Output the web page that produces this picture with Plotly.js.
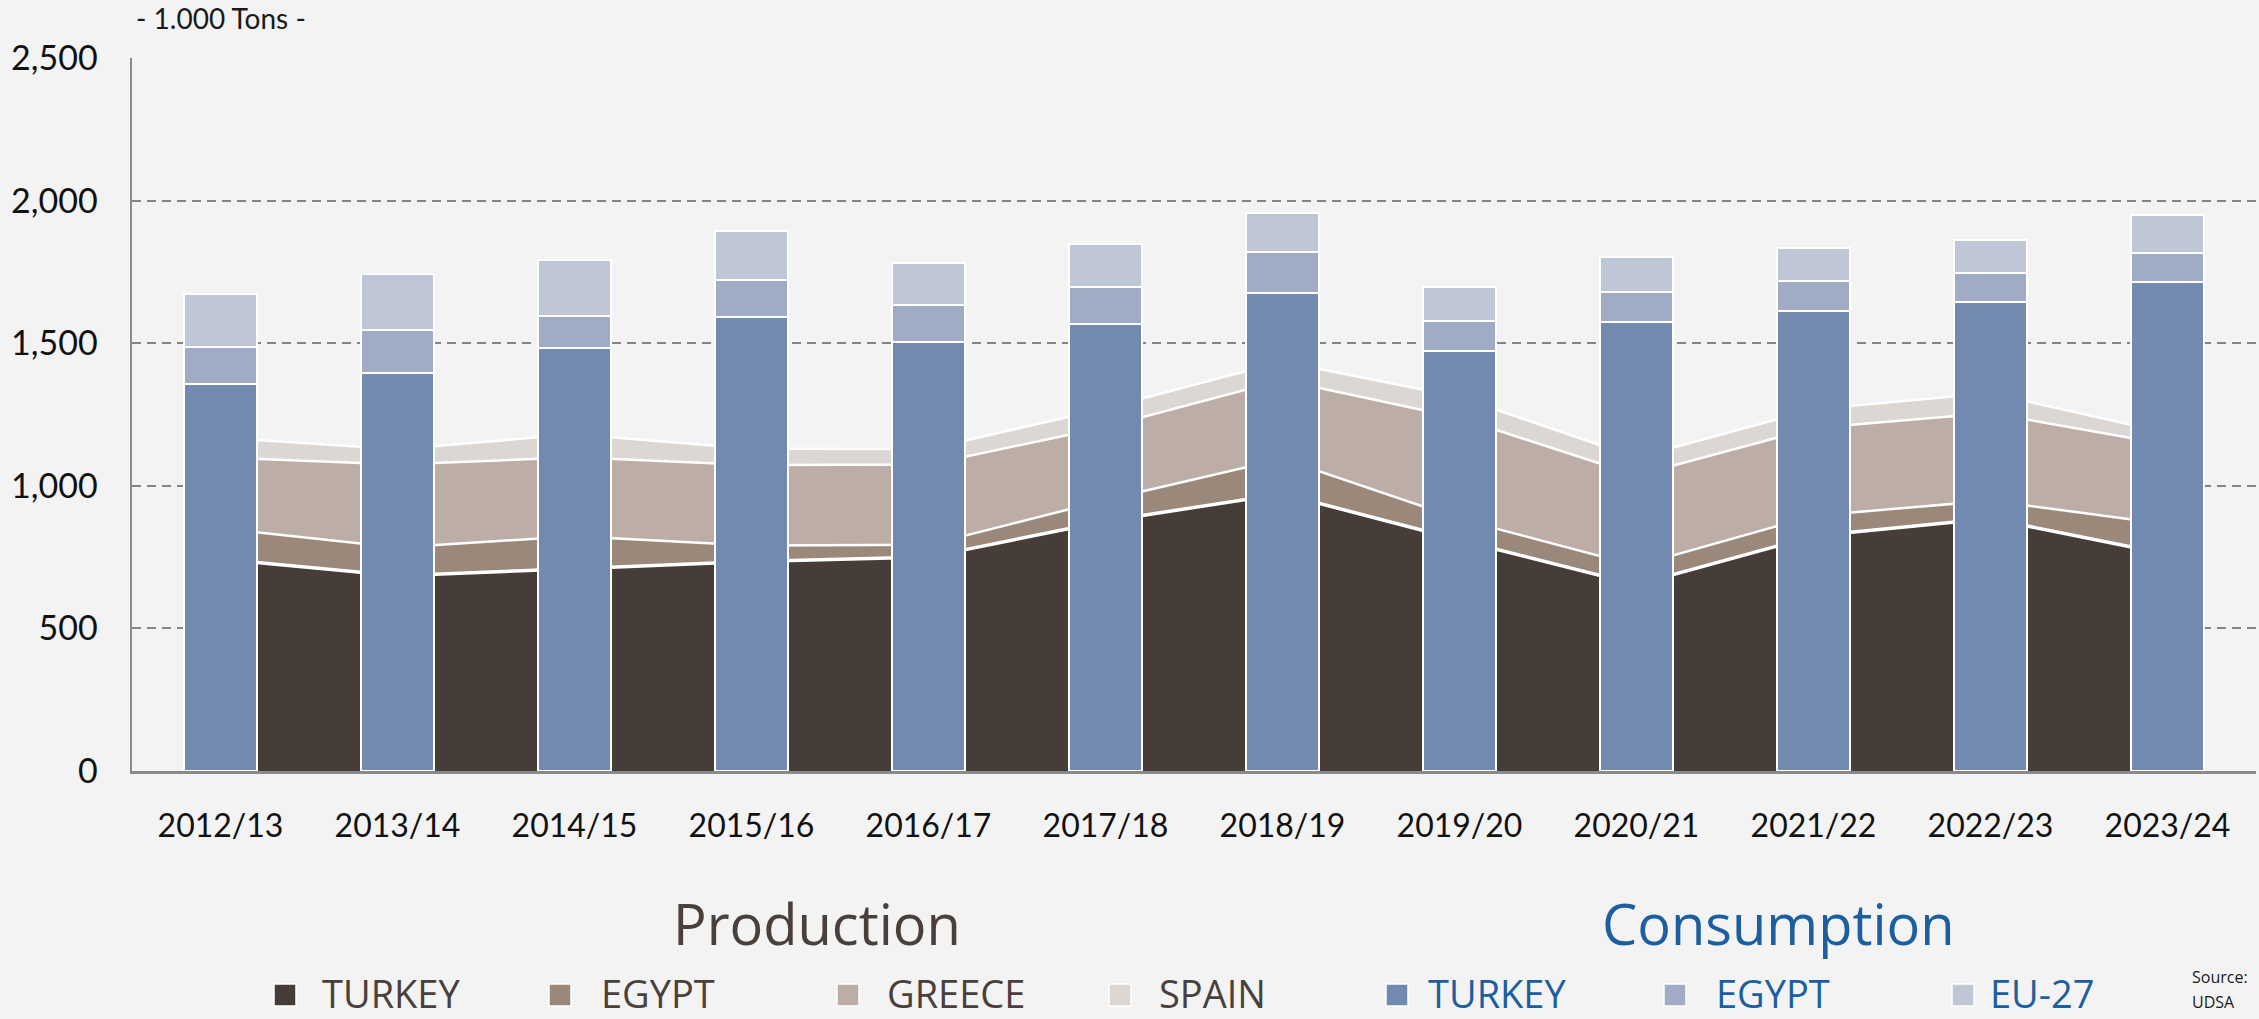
<!DOCTYPE html>
<html>
<head>
<meta charset="utf-8">
<script src="https://cdn.plot.ly/plotly-3.0.1.min.js"></script>
<style>
  html, body { margin: 0; padding: 0; background: #f3f3f3; }
  #chart { width: 2259px; height: 1019px; }
</style>
</head>
<body>
<div id="chart"></div>
<script>
// ---- data (1.000 tons) ----
const seasons = ["2012/13","2013/14","2014/15","2015/16","2016/17","2017/18","2018/19","2019/20","2020/21","2021/22","2022/23","2023/24"];

const prodTurkey = [743, 685, 709, 735, 750, 876, 972, 810, 653, 824, 885, 760];
const prodEgypt  = [108,  99, 114,  56,  43,  74, 123,  74,  67,  71,  63, 105];
const prodGreece = [248, 291, 277, 282, 282, 256, 276, 354, 316, 308, 307, 280];
const prodSpain  = [ 70,  53,  81,  57,  54,  66,  65,  73,  63,  65,  70,  40];

const consTurkey = [1357, 1397, 1483, 1593, 1505, 1566, 1675, 1472, 1575, 1614, 1644, 1716];
const consEgypt  = [ 130,  148,  113,  130,  128,  130,  145,  106,  104,  104,  101,   99];
const consEU     = [ 185,  198,  194,  170,  148,  153,  138,  119,  122,  117,  118,  134];

const yTicks = [0, 500, 1000, 1500, 2000, 2500];

const prodNames = ["TURKEY", "EGYPT", "GREECE", "SPAIN"];
const consNames = ["TURKEY", "EGYPT", "EU-27"];

// ---- styles ----
const prodColors = ["#463c38", "#9a887b", "#bcaea6", "#ddd7d3"];
const consColors = ["#728aaf", "#a0acc5", "#bfc6d6"];
const brownText = "#4a403b";
const blueText = "#1d5f9e";

// plot area in pixels
const L = 132, R = 2256, T = 58, B = 771, W = 2259, H = 1019;
const px = x => (x - L) / (R - L);
const py = y => (B - y) / (B - T);

const prodSeries = [prodTurkey, prodEgypt, prodGreece, prodSpain];
const consSeries = [consTurkey, consEgypt, consEU];

const traces = [];
prodSeries.forEach((vals, i) => {
  traces.push({
    type: "scatter", mode: "lines", name: prodNames[i],
    x: seasons, y: vals, stackgroup: "prod",
    fillcolor: prodColors[i],
    line: { color: "#ffffff", width: i === 0 ? 3.5 : 2.5, shape: "linear" },
    xaxis: "x", yaxis: "y", showlegend: false
  });
});
consSeries.forEach((vals, i) => {
  traces.push({
    type: "bar", name: consNames[i],
    x: seasons, y: vals, width: 0.41,
    marker: { color: consColors[i], line: { color: "#ffffff", width: 2 } },
    xaxis: "x2", yaxis: "y2", showlegend: false
  });
});

// legend built from names and colours
const annotations = [
  { text: "- 1.000 Tons -", x: px(134), y: py(18), xref: "paper", yref: "paper",
    xanchor: "left", yanchor: "middle", showarrow: false,
    font: { family: "Lato, Open Sans, sans-serif", size: 28, color: "#1a1a1a" } },
  { text: "Production", x: px(817), y: py(923), xref: "paper", yref: "paper",
    xanchor: "center", yanchor: "middle", showarrow: false,
    font: { family: "Open Sans, sans-serif", size: 56, color: brownText } },
  { text: "Consumption", x: px(1778), y: py(923), xref: "paper", yref: "paper",
    xanchor: "center", yanchor: "middle", showarrow: false,
    font: { family: "Open Sans, sans-serif", size: 56, color: blueText } },
  { text: "Source:", x: px(2190), y: py(977), xref: "paper", yref: "paper",
    xanchor: "left", yanchor: "middle", showarrow: false,
    font: { family: "Open Sans, sans-serif", size: 16, color: "#1a1a1a" } },
  { text: "UDSA", x: px(2190), y: py(1002), xref: "paper", yref: "paper",
    xanchor: "left", yanchor: "middle", showarrow: false,
    font: { family: "Open Sans, sans-serif", size: 16, color: "#1a1a1a" } }
];
const shapes = [];
const legendSquareX = [285, 560, 848, 1120, 1397, 1675, 1963];
const legendTextX = [320, 599, 885, 1157, 1426, 1714, 1988];
const legendY = 993;
const legendItems = prodNames.map((n, i) => ({ name: n, color: prodColors[i], text: brownText }))
  .concat(consNames.map((n, i) => ({ name: n, color: consColors[i], text: blueText })));
legendItems.forEach((it, i) => {
  shapes.push({
    type: "rect", xref: "paper", yref: "paper",
    x0: px(legendSquareX[i] - 11), x1: px(legendSquareX[i] + 11),
    y0: py(legendY + 13), y1: py(legendY - 9),
    fillcolor: it.color, line: { color: "#ffffff", width: 1.5 }
  });
  annotations.push({
    text: it.name, x: px(legendTextX[i]), y: py(legendY), xref: "paper", yref: "paper",
    xanchor: "left", yanchor: "middle", showarrow: false,
    font: { family: "Open Sans, sans-serif", size: 38, color: it.text }
  });
});

const layout = {
  width: W, height: H,
  margin: { l: L, r: W - R, t: T, b: H - B, pad: 0 },
  paper_bgcolor: "#f3f3f3",
  plot_bgcolor: "#f3f3f3",
  showlegend: false,
  barmode: "stack",
  xaxis: {
    type: "category", categoryorder: "array", categoryarray: seasons,
    range: [-0.5, 11.5], showgrid: false, zeroline: false,
    showline: true, linecolor: "#8a8a8a", linewidth: 2.5,
    ticks: "", ticklabelstandoff: 25,
    tickfont: { family: "Lato, Open Sans, sans-serif", size: 32, color: "#111111" }
  },
  yaxis: {
    range: [0, 2500], tickvals: yTicks, tickformat: ",d",
    showgrid: true, gridcolor: "#858585", gridwidth: 2, griddash: "9px,6px",
    zeroline: false, showline: true, linecolor: "#8a8a8a", linewidth: 2.5,
    ticks: "", ticklabelstandoff: 25,
    tickfont: { family: "Lato, Open Sans, sans-serif", size: 34, color: "#111111" }
  },
  xaxis2: {
    type: "category", categoryorder: "array", categoryarray: seasons,
    range: [-0.5, 11.5], overlaying: "x", visible: false
  },
  yaxis2: { range: [0, 2500], overlaying: "y", visible: false },
  annotations: annotations,
  shapes: shapes
};

Plotly.newPlot("chart", traces, layout, { displayModeBar: false, staticPlot: true });
</script>
</body>
</html>
